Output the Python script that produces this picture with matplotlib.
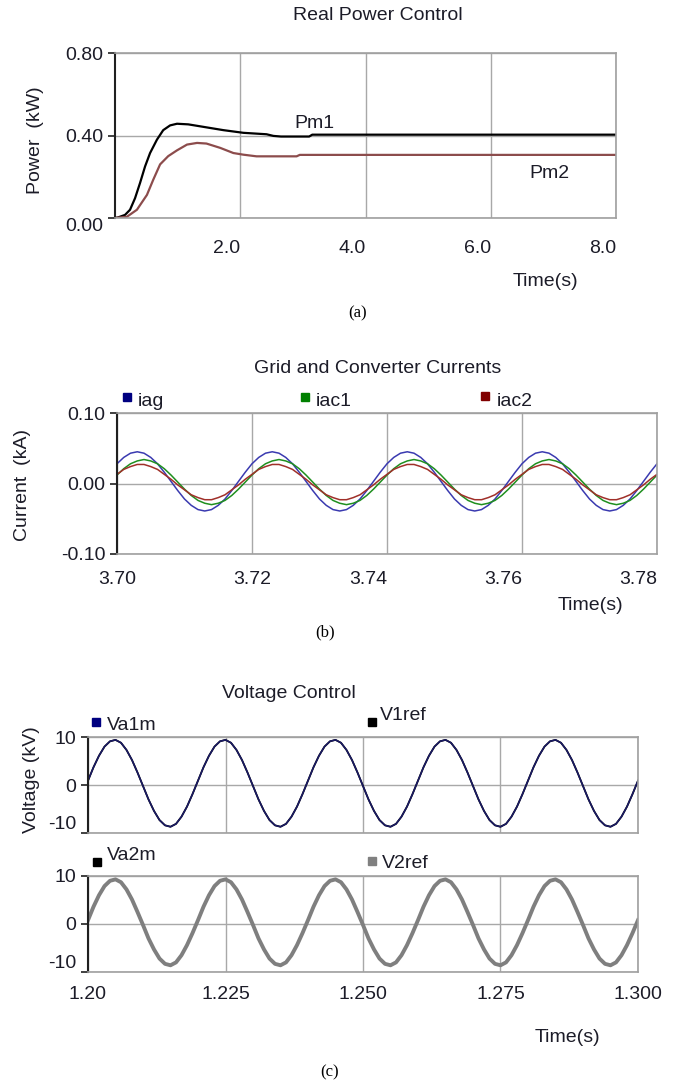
import matplotlib
matplotlib.use("Agg")
import matplotlib.pyplot as plt
import numpy as np
from matplotlib.lines import Line2D

plt.rcParams['font.family'] = ['Liberation Sans', 'DejaVu Sans']

# ==============================
# Datos
# ==============================

# (a) potencia real
t_pm1 = [0, 0.05, 0.16, 0.24, 0.32, 0.40, 0.48, 0.56, 0.67, 0.77, 0.88, 0.99,
         1.17, 1.41, 1.73, 2.05, 2.42, 2.53, 2.65, 3.10, 3.15, 8.0]
pm1 = [0, 0.003, 0.015, 0.04, 0.096, 0.17, 0.25, 0.315, 0.38, 0.426, 0.449, 0.457,
       0.454, 0.442, 0.426, 0.413, 0.406, 0.398, 0.395, 0.395, 0.404, 0.404]

t_pm2 = [0, 0.19, 0.35, 0.51, 0.61, 0.72, 0.85, 0.99, 1.15, 1.31, 1.46, 1.68,
         1.89, 2.05, 2.26, 2.90, 2.95, 8.0]
pm2 = [0, 0.006, 0.04, 0.112, 0.185, 0.26, 0.30, 0.328, 0.356, 0.364, 0.361, 0.34,
       0.315, 0.307, 0.299, 0.299, 0.306, 0.306]

# (b) corrientes, muestreo cada 1 ms desde 3.70 s
t_cur = 3.70 + 0.001 * np.arange(81)
iag = [0.028, 0.037, 0.043, 0.045, 0.043, 0.037, 0.028, 0.016, 0.003, -0.010,
       -0.022, -0.031, -0.037, -0.039, -0.037, -0.031, -0.022, -0.010, 0.003, 0.016,
       0.028, 0.037, 0.043, 0.045, 0.043, 0.037, 0.028, 0.016, 0.003, -0.010,
       -0.022, -0.031, -0.037, -0.039, -0.037, -0.031, -0.022, -0.010, 0.003, 0.016,
       0.028, 0.037, 0.043, 0.045, 0.043, 0.037, 0.028, 0.016, 0.003, -0.010,
       -0.022, -0.031, -0.037, -0.039, -0.037, -0.031, -0.022, -0.010, 0.003, 0.016,
       0.028, 0.037, 0.043, 0.045, 0.043, 0.037, 0.028, 0.016, 0.003, -0.010,
       -0.022, -0.031, -0.037, -0.039, -0.037, -0.031, -0.022, -0.010, 0.003, 0.016,
       0.028]
iac1 = [0.012, 0.021, 0.028, 0.032, 0.034, 0.032, 0.028, 0.021, 0.012, 0.002,
        -0.008, -0.017, -0.024, -0.028, -0.030, -0.028, -0.024, -0.017, -0.008, 0.002,
        0.012, 0.021, 0.028, 0.032, 0.034, 0.032, 0.028, 0.021, 0.012, 0.002,
        -0.008, -0.017, -0.024, -0.028, -0.030, -0.028, -0.024, -0.017, -0.008, 0.002,
        0.012, 0.021, 0.028, 0.032, 0.034, 0.032, 0.028, 0.021, 0.012, 0.002,
        -0.008, -0.017, -0.024, -0.028, -0.030, -0.028, -0.024, -0.017, -0.008, 0.002,
        0.012, 0.021, 0.028, 0.032, 0.034, 0.032, 0.028, 0.021, 0.012, 0.002,
        -0.008, -0.017, -0.024, -0.028, -0.030, -0.028, -0.024, -0.017, -0.008, 0.002,
        0.012]
iac2 = [0.013, 0.020, 0.024, 0.027, 0.027, 0.024, 0.020, 0.013, 0.006, -0.002,
        -0.009, -0.016, -0.020, -0.023, -0.023, -0.020, -0.016, -0.009, -0.002, 0.006,
        0.013, 0.020, 0.024, 0.027, 0.027, 0.024, 0.020, 0.013, 0.006, -0.002,
        -0.009, -0.016, -0.020, -0.023, -0.023, -0.020, -0.016, -0.009, -0.002, 0.006,
        0.013, 0.020, 0.024, 0.027, 0.027, 0.024, 0.020, 0.013, 0.006, -0.002,
        -0.009, -0.016, -0.020, -0.023, -0.023, -0.020, -0.016, -0.009, -0.002, 0.006,
        0.013, 0.020, 0.024, 0.027, 0.027, 0.024, 0.020, 0.013, 0.006, -0.002,
        -0.009, -0.016, -0.020, -0.023, -0.023, -0.020, -0.016, -0.009, -0.002, 0.006,
        0.013]

# (c) tensiones, muestreo cada 1 ms desde 1.20 s
t_volt = 1.20 + 0.001 * np.arange(101)
va1m = [0.9, 3.7, 6.1, 8.0, 9.1, 9.4, 8.8, 7.3, 5.2, 2.6, -0.2, -3.0, -5.4, -7.3, -8.4, -8.7, -8.1, -6.6, -4.5, -1.9,
        0.9, 3.7, 6.1, 8.0, 9.1, 9.4, 8.8, 7.3, 5.2, 2.6, -0.2, -3.0, -5.4, -7.3, -8.4, -8.7, -8.1, -6.6, -4.5, -1.9,
        0.9, 3.7, 6.1, 8.0, 9.1, 9.4, 8.8, 7.3, 5.2, 2.6, -0.2, -3.0, -5.4, -7.3, -8.4, -8.7, -8.1, -6.6, -4.5, -1.9,
        0.9, 3.7, 6.1, 8.0, 9.1, 9.4, 8.8, 7.3, 5.2, 2.6, -0.2, -3.0, -5.4, -7.3, -8.4, -8.7, -8.1, -6.6, -4.5, -1.9,
        0.9, 3.7, 6.1, 8.0, 9.1, 9.4, 8.8, 7.3, 5.2, 2.6, -0.2, -3.0, -5.4, -7.3, -8.4, -8.7, -8.1, -6.6, -4.5, -1.9,
        0.9]
v1ref = [0.9, 3.7, 6.1, 8.0, 9.1, 9.4, 8.8, 7.3, 5.2, 2.6, -0.2, -3.0, -5.4, -7.3, -8.4, -8.7, -8.1, -6.6, -4.5, -1.9,
         0.9, 3.7, 6.1, 8.0, 9.1, 9.4, 8.8, 7.3, 5.2, 2.6, -0.2, -3.0, -5.4, -7.3, -8.4, -8.7, -8.1, -6.6, -4.5, -1.9,
         0.9, 3.7, 6.1, 8.0, 9.1, 9.4, 8.8, 7.3, 5.2, 2.6, -0.2, -3.0, -5.4, -7.3, -8.4, -8.7, -8.1, -6.6, -4.5, -1.9,
         0.9, 3.7, 6.1, 8.0, 9.1, 9.4, 8.8, 7.3, 5.2, 2.6, -0.2, -3.0, -5.4, -7.3, -8.4, -8.7, -8.1, -6.6, -4.5, -1.9,
         0.9, 3.7, 6.1, 8.0, 9.1, 9.4, 8.8, 7.3, 5.2, 2.6, -0.2, -3.0, -5.4, -7.3, -8.4, -8.7, -8.1, -6.6, -4.5, -1.9,
         0.9]
va2m = [0.8, 3.6, 6.0, 7.9, 9.0, 9.3, 8.7, 7.2, 5.1, 2.5, -0.2, -3.0, -5.3, -7.2, -8.3, -8.6, -8.0, -6.5, -4.4, -1.9,
        0.8, 3.6, 6.0, 7.9, 9.0, 9.3, 8.7, 7.2, 5.1, 2.5, -0.2, -3.0, -5.3, -7.2, -8.3, -8.6, -8.0, -6.5, -4.4, -1.9,
        0.8, 3.6, 6.0, 7.9, 9.0, 9.3, 8.7, 7.2, 5.1, 2.5, -0.2, -3.0, -5.3, -7.2, -8.3, -8.6, -8.0, -6.5, -4.4, -1.9,
        0.8, 3.6, 6.0, 7.9, 9.0, 9.3, 8.7, 7.2, 5.1, 2.5, -0.2, -3.0, -5.3, -7.2, -8.3, -8.6, -8.0, -6.5, -4.4, -1.9,
        0.8, 3.6, 6.0, 7.9, 9.0, 9.3, 8.7, 7.2, 5.1, 2.5, -0.2, -3.0, -5.3, -7.2, -8.3, -8.6, -8.0, -6.5, -4.4, -1.9,
        0.8]
v2ref = [0.8, 3.6, 6.0, 7.9, 9.0, 9.3, 8.7, 7.2, 5.1, 2.5, -0.2, -3.0, -5.3, -7.2, -8.3, -8.6, -8.0, -6.5, -4.4, -1.9,
         0.8, 3.6, 6.0, 7.9, 9.0, 9.3, 8.7, 7.2, 5.1, 2.5, -0.2, -3.0, -5.3, -7.2, -8.3, -8.6, -8.0, -6.5, -4.4, -1.9,
         0.8, 3.6, 6.0, 7.9, 9.0, 9.3, 8.7, 7.2, 5.1, 2.5, -0.2, -3.0, -5.3, -7.2, -8.3, -8.6, -8.0, -6.5, -4.4, -1.9,
         0.8, 3.6, 6.0, 7.9, 9.0, 9.3, 8.7, 7.2, 5.1, 2.5, -0.2, -3.0, -5.3, -7.2, -8.3, -8.6, -8.0, -6.5, -4.4, -1.9,
         0.8, 3.6, 6.0, 7.9, 9.0, 9.3, 8.7, 7.2, 5.1, 2.5, -0.2, -3.0, -5.3, -7.2, -8.3, -8.6, -8.0, -6.5, -4.4, -1.9,
         0.8]

xt_a = [2.0, 4.0, 6.0, 8.0]
yt_a = [0.0, 0.4, 0.8]
xt_b = [3.70, 3.72, 3.74, 3.76, 3.78]
yt_b = [-0.10, 0.0, 0.10]
xt_c = [1.20, 1.225, 1.250, 1.275, 1.300]
xl_c = ["1.20", "1.225", "1.250", "1.275", "1.300"]
yt_c = [-10, 0, 10]

# ==============================
# Figura
# ==============================
W, H = 673, 1084
TXT = '#1c1c28'
GRID = '#a8a8a8'
FS = 14

fig = plt.figure(figsize=(W / 100, H / 100), dpi=100)


def rect(l, t, r, b):
    return [l / W, 1 - b / H, (r - l) / W, (b - t) / H]


def put(px, py, s, **kw):
    kw.setdefault('fontsize', FS)
    kw.setdefault('color', TXT)
    kw.setdefault('ha', 'center')
    kw.setdefault('va', 'center')
    fig.text(px / W, 1 - py / H, s, **kw)


def square(px, py, color):
    fig.add_artist(Line2D([px / W], [1 - py / H], marker='s', ms=5.5, color=color,
                          linestyle='none', transform=fig.transFigure))


def style(ax, xpad):
    for s in ['top', 'right', 'bottom']:
        ax.spines[s].set_color('#a0a0a0')
        ax.spines[s].set_linewidth(1.2)
    ax.spines['left'].set_color('#202020')
    ax.spines['left'].set_linewidth(1.5)
    ax.tick_params(axis='y', direction='out', length=5, width=1.2, color='#202020',
                   pad=3.5, labelsize=FS, labelcolor=TXT)
    ax.tick_params(axis='x', length=0, pad=xpad, labelsize=FS, labelcolor=TXT)
    ax.grid(True, color=GRID, linewidth=1)
    ax.set_axisbelow(True)


def caption(px, py, s):
    put(px, py, s, fontsize=12, color='black', family=['Liberation Serif', 'DejaVu Serif'])


# ---- (a) Real Power Control ----
ax1 = fig.add_axes(rect(115, 53, 616, 218))
style(ax1, 16)
ax1.plot(t_pm1, pm1, color='black', lw=1.6)
ax1.plot(t_pm2, pm2, color='#8c4c4c', lw=1.6)
ax1.set_xlim(0, 8.0)
ax1.set_ylim(0, 0.8)
ax1.set_xticks(xt_a)
ax1.set_xticklabels([f"{v:.1f}" for v in xt_a], ha='right')
ax1.set_yticks(yt_a)
ax1.set_yticklabels([f"{v:.2f}" for v in yt_a])
ax1.get_yticklabels()[0].set_va('top')
put(378, 15, "Real Power Control")
put(35, 140, "Power  (kW)", rotation=90)
put(314, 123, "Pm1")
put(549, 173, "Pm2")
put(545, 281, "Time(s)")
caption(358, 313, "(a)")

# ---- (b) Grid and Converter Currents ----
ax2 = fig.add_axes(rect(117, 413, 657, 554))
style(ax2, 12)
ax2.plot(t_cur, iag, color='#3a3ab0', lw=1.1)
ax2.plot(t_cur, iac1, color='#1f8f1f', lw=1.1)
ax2.plot(t_cur, iac2, color='#a0302a', lw=1.1)
ax2.set_xlim(3.70, 3.78)
ax2.set_ylim(-0.10, 0.10)
ax2.set_xticks(xt_b)
ax2.set_xticklabels([f"{v:.2f}" for v in xt_b])
for lab in ax2.get_xticklabels()[2:]:
    lab.set_ha('right')
ax2.set_yticks(yt_b)
ax2.set_yticklabels([f"{v:.2f}" for v in yt_b])
put(378, 368, "Grid and Converter Currents")
put(23, 485, "Current  (kA)", rotation=90)
square(127, 397, '#000080')
put(138, 402, "iag", ha='left')
square(305, 397, '#008000')
put(316, 402, "iac1", ha='left')
square(485, 396, '#800000')
put(497, 402, "iac2", ha='left')
put(590, 605, "Time(s)")
caption(325, 632, "(b)")

# ---- (c) Voltage Control ----
ax3 = fig.add_axes(rect(88, 737, 638, 833))
ax4 = fig.add_axes(rect(88, 876, 638, 972))
for ax in (ax3, ax4):
    style(ax, 10)
    ax.set_xlim(1.20, 1.30)
    ax.set_ylim(-10, 10)
    ax.set_xticks(xt_c)
    ax.set_yticks(yt_c)
    ax.set_yticklabels([str(v) for v in yt_c])
    ax.get_yticklabels()[0].set_va('bottom')
ax3.set_xticklabels([])
ax4.set_xticklabels(xl_c)

ax3.plot(t_volt, v1ref, color='black', lw=1.3)
ax3.plot(t_volt, va1m, color='#1a1a66', lw=1.1)
ax4.plot(t_volt, va2m, color='black', lw=1.0)
ax4.plot(t_volt, v2ref, color='#7f7f7f', lw=2.8)

put(289, 693, "Voltage Control")
put(32, 780, "Voltage (kV)", rotation=90)
square(96, 722, '#000080')
put(107, 725, "Va1m", ha='left')
square(372, 722, 'black')
put(380, 715, "V1ref", ha='left')
square(97, 862, 'black')
put(107, 856, "Va2m", ha='left')
square(372, 861, '#808080')
put(382, 864, "V2ref", ha='left')
put(567, 1038, "Time(s)")
caption(330, 1072, "(c)")

fig.savefig("out.png", dpi=100)
